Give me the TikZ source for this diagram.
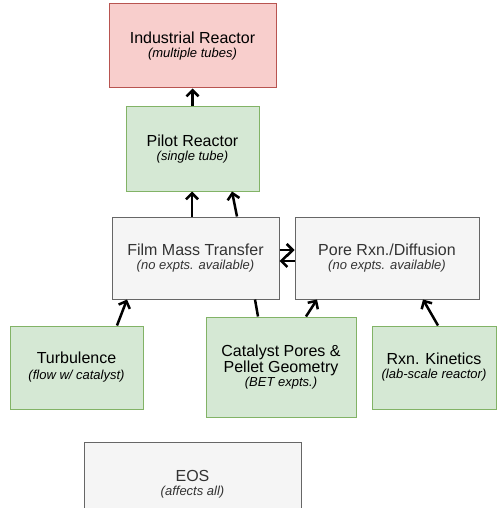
\documentclass[tikz,border=0pt]{standalone}
\usepackage{fontspec}
\setmainfont{Liberation Sans}
\usetikzlibrary{arrows.meta,positioning}
\definecolor{redfill}{HTML}{F8CECC}
\definecolor{redline}{HTML}{B85450}
\definecolor{greenfill}{HTML}{D5E8D4}
\definecolor{greenline}{HTML}{82B366}
\definecolor{grayfill}{HTML}{F5F5F5}
\definecolor{grayline}{HTML}{666666}
\definecolor{graytext}{HTML}{333333}
\newcommand{\sublbl}[1]{{\fontsize{13}{14}\selectfont\itshape #1}}

\begin{document}
\begin{tikzpicture}[x=1pt, y=-1pt,
  box/.style={rectangle, draw, line width=1pt, inner sep=0pt, align=center,
              font=\fontsize{16}{14}\selectfont},
  redbox/.style={box, fill=redfill, draw=redline},
  greenbox/.style={box, fill=greenfill, draw=greenline},
  graybox/.style={box, fill=grayfill, draw=grayline, text=graytext},
  arr/.style={-{Straight Barb[length=6pt, width=12pt]}, line width=2.5pt},
]
  \clip (0,0) rectangle (497,508);
  \useasboundingbox (0,0) rectangle (497,508);

  \node[redbox, minimum width=167pt, minimum height=84pt] (industrial) at (192.5,46)
    {Industrial Reactor\\\sublbl{(multiple tubes)}};
  \node[greenbox, minimum width=133pt, minimum height=84pt] (pilot) at (192.5,149)
    {Pilot Reactor\\\sublbl{(single tube)}};
  \node[graybox, minimum width=167pt, minimum height=82pt] (film) at (195.5,258)
    {Film Mass Transfer\\\sublbl{(no expts. available)}};
  \node[graybox, minimum width=184pt, minimum height=82pt] (pore) at (387,258)
    {Pore Rxn./Diffusion\\\sublbl{(no expts. available)}};
  \node[greenbox, minimum width=133pt, minimum height=83pt] (turbulence) at (76.5,367.5)
    {Turbulence\\[2pt]\sublbl{(flow w/ catalyst)}};
  \node[greenbox, minimum width=150pt, minimum height=100pt,
        font=\fontsize{16}{15.5}\selectfont] (catalyst) at (281,367)
    {Catalyst Pores \&\\Pellet Geometry\\[-1.5pt]\sublbl{(BET expts.)}};
  \node[greenbox, minimum width=124pt, minimum height=83pt] (kinetics) at (434,367.5)
    {Rxn. Kinetics\\\sublbl{(lab-scale reactor)}};
  \node[graybox, minimum width=217pt, minimum height=84pt] (eos) at (192.5,484)
    {EOS\\\sublbl{(affects all)}};

  % scale-up chain
  \draw[arr] (pilot.north) -- (industrial.south);
  \draw[arr] ([xshift=-3.5pt]film.north) -- ([xshift=-0.5pt]pilot.south);
  \draw[arr] ([xshift=41.5pt]film.north) -- ([xshift=39.5pt]pilot.south);
  % film <-> pore
  \draw[arr] ([yshift=8pt]film.east) -- ([yshift=8pt]pore.west);
  \draw[arr] ([yshift=-3pt]pore.west) -- ([yshift=-3pt]film.east);
  % inputs
  \draw[arr] ([xshift=40.5pt]turbulence.north) -- ([xshift=-68.5pt]film.south);
  \draw[line width=2.5pt] ([xshift=-23pt]catalyst.north) -- ([xshift=59.5pt]film.south);
  \draw[arr] ([xshift=25pt]catalyst.north) -- ([xshift=-70pt]pore.south);
  \draw[arr] ([xshift=4pt]kinetics.north) -- ([xshift=36pt]pore.south);
\end{tikzpicture}
\end{document}
